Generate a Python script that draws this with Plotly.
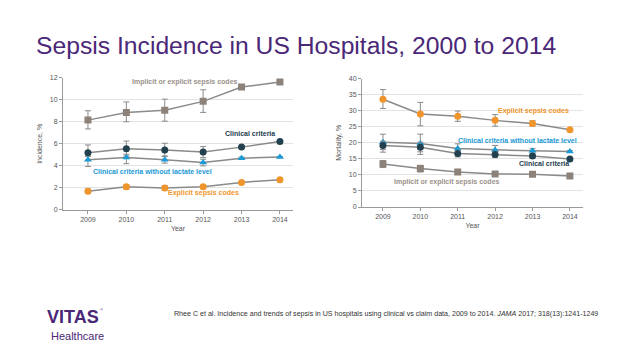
import plotly.graph_objects as go

years = [2009, 2010, 2011, 2012, 2013, 2014]

# Incidence, %
inc_implicit = [8.15, 8.85, 9.05, 9.85, 11.15, 11.6]
inc_implicit_hi = [9.0, 9.8, 10.05, 10.9, 11.35, 11.65]
inc_implicit_lo = [7.35, 8.0, 8.05, 8.85, 10.95, 11.5]
inc_clinical = [5.2, 5.55, 5.45, 5.25, 5.7, 6.2]
inc_clinical_hi = [5.9, 6.25, 6.05, 5.75, 5.8, 6.25]
inc_clinical_lo = [4.5, 4.9, 4.9, 4.75, 5.6, 6.15]
inc_nolactate = [4.55, 4.75, 4.55, 4.3, 4.7, 4.8]
inc_nolactate_hi = [4.85, 5.05, 4.85, 4.6, 4.8, 4.85]
inc_nolactate_lo = [3.95, 4.2, 4.25, 4.0, 4.6, 4.75]
inc_explicit = [1.7, 2.1, 2.0, 2.1, 2.5, 2.75]
inc_explicit_hi = [1.9, 2.3, 2.2, 2.25, 2.55, 2.8]
inc_explicit_lo = [1.5, 1.9, 1.8, 1.95, 2.45, 2.7]

# Mortality, %
mor_explicit = [33.6, 29.0, 28.3, 27.0, 26.0, 24.1]
mor_explicit_hi = [36.6, 32.6, 29.9, 28.8, 26.9, 24.4]
mor_explicit_lo = [30.7, 25.3, 26.7, 25.2, 25.2, 23.8]
mor_nolactate = [20.2, 19.8, 18.2, 17.8, 17.5, 17.3]
mor_nolactate_hi = [22.7, 22.7, 19.7, 19.2, 18.2, 17.6]
mor_nolactate_lo = [17.9, 17.2, 16.8, 16.5, 16.8, 17.0]
mor_clinical = [19.2, 18.6, 16.7, 16.4, 15.9, 15.0]
mor_clinical_hi = [20.5, 20.2, 17.7, 17.3, 16.5, 15.3]
mor_clinical_lo = [17.1, 16.4, 15.6, 15.4, 15.3, 14.7]
mor_implicit = [13.4, 12.0, 10.9, 10.3, 10.2, 9.7]
mor_implicit_hi = [14.5, 13.0, 11.3, 10.7, 10.5, 10.0]
mor_implicit_lo = [12.3, 10.9, 10.5, 9.9, 9.9, 9.4]

GRAY = "#8c8279"
TEAL = "#23404f"
BLUE = "#1a9ad6"
ORANGE = "#f0952b"
LINE = "#8a8a8a"
PURPLE = "#4a2777"

fig = go.Figure()

def add(x, y, hi, lo, color, symbol, xa, ya):
    fig.add_trace(go.Scatter(
        x=x, y=y, mode="lines+markers", xaxis=xa, yaxis=ya,
        line=dict(color=LINE, width=1.5),
        marker=dict(color=color, symbol=symbol, size=7),
        error_y=dict(type="data", symmetric=False,
                     array=[h - v for h, v in zip(hi, y)],
                     arrayminus=[v - l for v, l in zip(y, lo)],
                     color="#8a8a8a", thickness=1, width=3),
        showlegend=False, hoverinfo="skip"))

add(years, inc_implicit, inc_implicit_hi, inc_implicit_lo, GRAY, "square", "x", "y")
add(years, inc_clinical, inc_clinical_hi, inc_clinical_lo, TEAL, "circle", "x", "y")
add(years, inc_nolactate, inc_nolactate_hi, inc_nolactate_lo, BLUE, "triangle-up", "x", "y")
add(years, inc_explicit, inc_explicit_hi, inc_explicit_lo, ORANGE, "circle", "x", "y")

add(years, mor_explicit, mor_explicit_hi, mor_explicit_lo, ORANGE, "circle", "x2", "y2")
add(years, mor_nolactate, mor_nolactate_hi, mor_nolactate_lo, BLUE, "triangle-up", "x2", "y2")
add(years, mor_clinical, mor_clinical_hi, mor_clinical_lo, TEAL, "circle", "x2", "y2")
add(years, mor_implicit, mor_implicit_hi, mor_implicit_lo, GRAY, "square", "x2", "y2")

# page body has an 8px default margin; figure is sized to fill the rest
OFF = 8
W, H = 638 - OFF, 359 - OFF
def px(x): return (x - OFF) / W
def py(y): return 1 - (y - OFF) / H

FONT = "Liberation Sans"
axis_common = dict(showline=True, linecolor="#9a9a9a", linewidth=1,
                   tickfont=dict(family=FONT, size=7, color="#555"),
                   zeroline=False)
title_font = dict(family=FONT, size=7, color="#555")

fig.update_layout(
    width=W, height=H, margin=dict(l=0, r=0, t=0, b=0),
    paper_bgcolor="white", plot_bgcolor="white",
    xaxis=dict(domain=[px(63), px(293)], range=[2008.35, 2014.34],
               tickvals=years, ticks="outside", ticklen=3, tickcolor="#9a9a9a",
               showgrid=False, anchor="y",
               title=dict(text="Year", font=title_font, standoff=3),
               **axis_common),
    yaxis=dict(domain=[py(210), py(75)], range=[0, 12], dtick=2,
               ticks="outside", ticklen=3, tickcolor="#9a9a9a",
               showgrid=True, gridcolor="#e3e3e3", anchor="x",
               title=dict(text="Incidence, %", font=title_font, standoff=6),
               **axis_common),
    xaxis2=dict(domain=[px(362), px(583)], range=[2008.44, 2014.35],
                tickvals=years, ticks="outside", ticklen=3, tickcolor="#9a9a9a",
                showgrid=False, anchor="y2",
                title=dict(text="Year", font=title_font, standoff=3),
                **axis_common),
    yaxis2=dict(domain=[py(207), py(76)], range=[0, 40], dtick=5,
                ticks="outside", ticklen=3, tickcolor="#9a9a9a",
                showgrid=True, gridcolor="#e3e3e3", anchor="x2",
                title=dict(text="Mortality, %", font=title_font, standoff=6),
                **axis_common),
)

def note(text, x, y, color, size=7, bold=True, xanchor="center", family=FONT):
    fig.add_annotation(text=("<b>%s</b>" % text) if bold else text,
                       x=px(x), y=py(y), xref="paper", yref="paper",
                       xanchor=xanchor, yanchor="middle", showarrow=False,
                       font=dict(family=family, size=size, color=color))

note("Implicit or explicit sepsis codes", 185, 79, "#9a918a")
note("Clinical criteria", 250, 132, TEAL)
note("Clinical criteria without lactate level", 152, 171, BLUE)
note("Explicit sepsis codes", 203, 193, ORANGE)

note("Explicit sepsis codes", 533, 109, ORANGE)
note("Clinical criteria without lactate level", 517, 139, BLUE)
note("Clinical criteria", 544, 163, TEAL)
note("Implicit or explicit sepsis codes", 447, 181, "#9a918a")

# Title
note("Sepsis Incidence in US Hospitals, 2000 to 2014", 34, 42, PURPLE, size=24.7, bold=False, xanchor="left")

# Citation
note("Rhee C et al. Incidence and trends of sepsis in US hospitals using clinical vs claim data, 2009 to 2014. <i>JAMA</i> 2017; 318(13):1241-1249",
     172, 316, "#333", size=7.1, bold=False, xanchor="left")

# Logo text
note("VITAS", 45, 319, PURPLE, size=18, bold=True, xanchor="left")
note("®", 101, 312, PURPLE, size=4, bold=False, xanchor="center")
note("Healthcare", 49, 339, PURPLE, size=11, bold=False, xanchor="left")

fig.write_html("out.html")
